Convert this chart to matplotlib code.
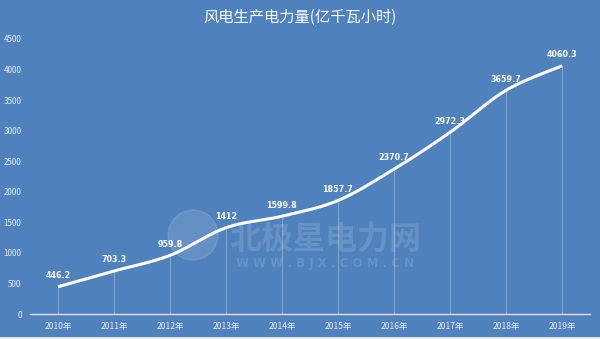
import numpy as np
import matplotlib
matplotlib.use("Agg")
import matplotlib.pyplot as plt
from matplotlib.patches import Circle
from matplotlib.transforms import IdentityTransform

plt.rcParams['font.family'] = ['Noto Sans CJK SC', 'DejaVu Sans']

years = ['2010年', '2011年', '2012年', '2013年', '2014年', '2015年', '2016年', '2017年', '2018年', '2019年']
values = [446.2, 703.3, 959.8, 1412, 1599.8, 1857.7, 2370.7, 2972.3, 3659.7, 4060.3]
labels = ['446.2', '703.3', '959.8', '1412', '1599.8', '1857.7', '2370.7', '2972.3', '3659.7', '4060.3']
yticks = [0, 500, 1000, 1500, 2000, 2500, 3000, 3500, 4000, 4500]

bg = '#4F81BD'
fig = plt.figure(figsize=(6, 3.39), dpi=100, facecolor=bg)
ax = fig.add_axes([30/600, 1-314/339, 560/600, 275/339])
ax.set_facecolor(bg)

x = np.arange(len(values))
y = np.array(values, dtype=float)

# Smooth curve (Bezier smoothing through data points, like Excel)
def smooth(xp, yp, n=30):
    P = np.column_stack([xp, yp])
    pts = []
    for i in range(len(P) - 1):
        p0 = P[i - 1] if i > 0 else P[i]
        p1 = P[i]
        p2 = P[i + 1]
        p3 = P[i + 2] if i + 2 < len(P) else P[i + 1]
        c1 = p1 + (p2 - p0) / 6
        c2 = p2 - (p3 - p1) / 6
        t = np.linspace(0, 1, n)[:, None]
        seg = (1-t)**3*p1 + 3*(1-t)**2*t*c1 + 3*(1-t)*t**2*c2 + t**3*p2
        pts.append(seg if i == 0 else seg[1:])
    pts = np.vstack(pts)
    return pts[:, 0], pts[:, 1]

sx, sy = smooth(x, y)

# drop lines
for xi, yi in zip(x, y):
    ax.plot([xi, xi], [0, yi], color='white', lw=0.6, alpha=0.35, zorder=1)

ax.plot(sx, sy, color='white', lw=2.2, solid_capstyle='butt', zorder=3)

for xi, yi, lab in zip(x, y, labels):
    ax.text(xi, yi + 110, lab, color='white', fontsize=5.8, fontweight='bold',
            ha='center', va='bottom', family='DejaVu Sans', zorder=4)

ax.set_xlim(-0.5, len(values) - 0.5)
ax.set_ylim(0, 4500)
ax.set_yticks(yticks)
ax.set_yticklabels([str(v) for v in yticks])
ax.set_xticks(x)
ax.set_xticklabels(years)
ax.tick_params(axis='both', length=0, colors='#E6ECF5', labelsize=5.8)
ax.tick_params(axis='x', labelsize=6.2)
ax.tick_params(axis='y', pad=6)
ax.tick_params(axis='x', pad=6)
for s in ['top', 'right', 'left']:
    ax.spines[s].set_visible(False)
ax.spines['bottom'].set_color('#D9E2EE')
ax.spines['bottom'].set_linewidth(1.0)

# watermark
fig.add_artist(Circle((193, 339 - 235), 25, transform=IdentityTransform(),
                      color='white', alpha=0.12, zorder=0.5))
fig.text(325/600, 1-240/339, '北极星电力网', color='white', alpha=0.14, fontsize=23,
         fontweight='bold', ha='center', va='center', style='italic')
fig.text(325/600, 1-263/339, 'W W W . B J X . C O M . C N', color='white', alpha=0.14,
         fontsize=8.5, fontweight='bold', ha='center', va='center', family='DejaVu Sans')

fig.text(0.5, 1 - 17/339, '风电生产电力量(亿千瓦小时)', color='white', fontsize=11,
         ha='center', va='center')

# bottom border line
fig.add_artist(plt.Line2D([0, 1], [1.5/339, 1.5/339], color='#DDE6F2', lw=1.5))

fig.savefig('out.png', dpi=100, facecolor=bg)
